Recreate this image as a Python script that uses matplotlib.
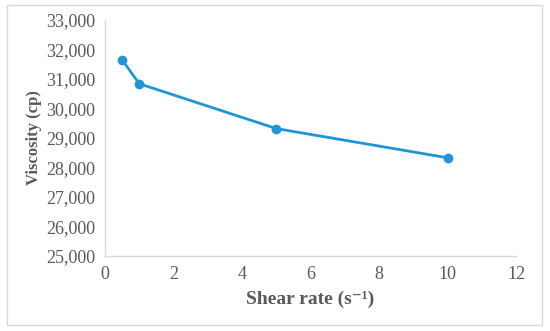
import matplotlib
matplotlib.use("Agg")
import matplotlib.pyplot as plt
from matplotlib.patches import Rectangle
from matplotlib.ticker import FuncFormatter

shear_rate = [0.5, 1, 5, 10]
viscosity = [31650, 30840, 29320, 28330]
x_ticks = [0, 2, 4, 6, 8, 10, 12]
y_ticks = [25000, 26000, 27000, 28000, 29000, 30000, 31000, 32000, 33000]

plt.rcParams['font.family'] = ['Liberation Serif', 'DejaVu Serif']

fig = plt.figure(figsize=(5.5, 3.31), dpi=100)
fig.patches.append(Rectangle((7/550, 1-325/331), 535/550, 320/331, transform=fig.transFigure,
                             fill=False, edgecolor='#D9D9D9', linewidth=1.0))
ax = fig.add_axes([105/550, 1-256/331, 411/550, 236/331])
ax.plot(shear_rate, viscosity, color='#1F96D8', linewidth=2.0, marker='o', markersize=6)
ax.set_xlim(0, 12)
ax.set_ylim(25000, 33000)
ax.set_xticks(x_ticks)
ax.set_yticks(y_ticks)
ax.yaxis.set_major_formatter(FuncFormatter(lambda v, p: f"{int(v):,}"))
for s in ['top', 'right']:
    ax.spines[s].set_visible(False)
for s in ['left', 'bottom']:
    ax.spines[s].set_color('#D9D9D9')
    ax.spines[s].set_linewidth(1.0)
ax.tick_params(length=0, colors='#595959', labelsize=13, pad=7)
ax.set_xlabel('Shear rate (s\u207b\u00b9)', fontsize=14, fontweight='bold', color='#595959', labelpad=6)
ax.set_ylabel('Viscosity (cp)', fontsize=12, fontweight='bold', color='#595959', labelpad=3)
fig.savefig('out.png', dpi=100)
